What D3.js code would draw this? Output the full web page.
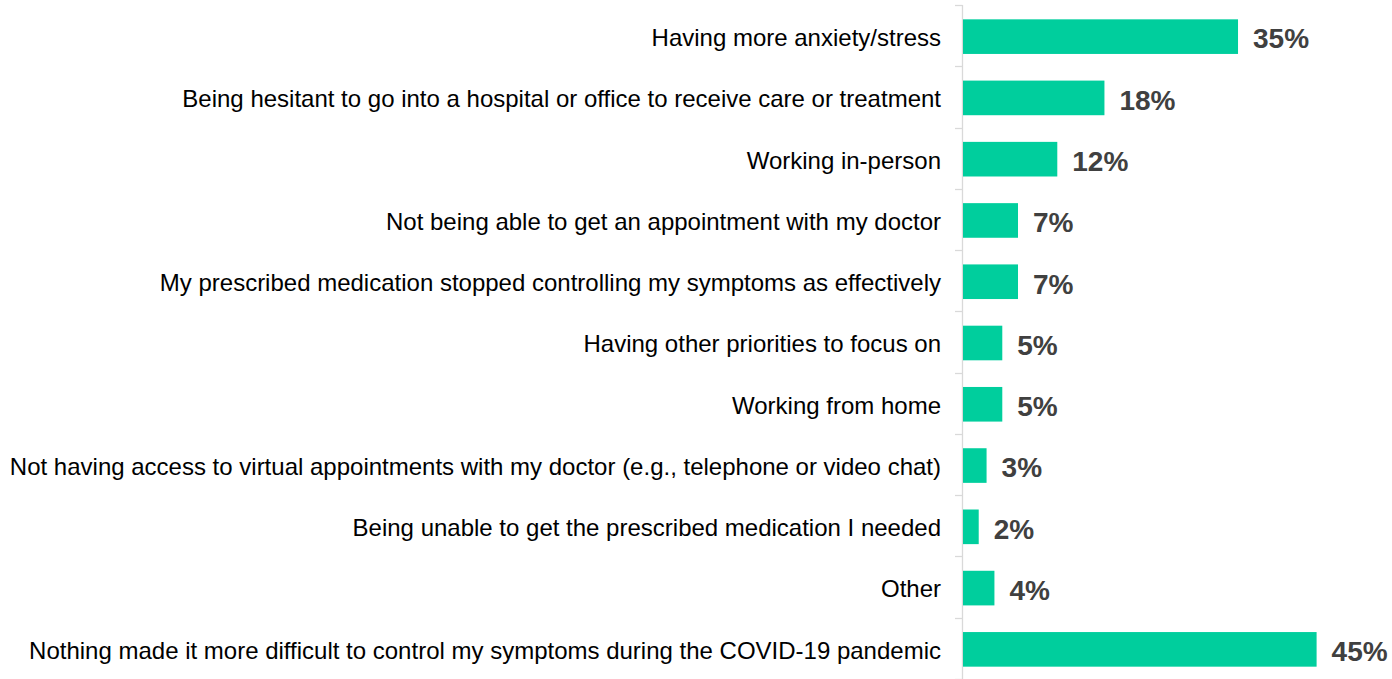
<!DOCTYPE html>
<html>
<head>
<meta charset="utf-8">
<script src="https://cdn.jsdelivr.net/npm/d3@7"></script>
<style>
  body { margin: 0; background: #fff; }
  svg { display: block; }
</style>
</head>
<body>
<svg id="chart" width="1392" height="679"></svg>
<script>
// categories, top to bottom
var categories = [
  "Having more anxiety/stress",
  "Being hesitant to go into a hospital or office to receive care or treatment",
  "Working in-person",
  "Not being able to get an appointment with my doctor",
  "My prescribed medication stopped controlling my symptoms as effectively",
  "Having other priorities to focus on",
  "Working from home",
  "Not having access to virtual appointments with my doctor (e.g., telephone or video chat)",
  "Being unable to get the prescribed medication I needed",
  "Other",
  "Nothing made it more difficult to control my symptoms during the COVID-19 pandemic"
];
// percent values
var values = [35, 18, 12, 7, 7, 5, 5, 3, 2, 4, 45];

var svg = d3.select("#chart");
var axisX = 962;
var topY = 5, bottomY = 679;

// x scale: percent -> pixels
var xs = d3.scaleLinear().domain([0, 45]).range([axisX, axisX + 353.6]);
// y scale: one band per category
var ys = d3.scaleBand().domain(categories).range([topY, bottomY]);
var step = ys.step();
var barH = step * 0.565;

// axis line and ticks between categories
svg.append("line")
  .attr("x1", axisX + 0.5).attr("x2", axisX + 0.5)
  .attr("y1", topY).attr("y2", bottomY)
  .attr("stroke", "#d9d9d9").attr("stroke-width", 1.3);

var ticks = categories.map(function(d) { return ys(d); }).concat([bottomY]);
svg.selectAll("line.tick")
  .data(ticks)
  .enter().append("line")
  .attr("class", "tick")
  .attr("x1", axisX - 7).attr("x2", axisX + 0.5)
  .attr("y1", function(d) { return Math.round(d) + 0.5; })
  .attr("y2", function(d) { return Math.round(d) + 0.5; })
  .attr("stroke", "#d9d9d9").attr("stroke-width", 1.3);

// bars
svg.selectAll("rect.bar")
  .data(values)
  .enter().append("rect")
  .attr("class", "bar")
  .attr("x", xs(0) + 1)
  .attr("y", function(d, i) { return ys(categories[i]) + step / 2 - barH / 2 + 1; })
  .attr("width", function(d) { return xs(d) - xs(0); })
  .attr("height", barH)
  .attr("fill", "#00ce9d");

// category labels
svg.selectAll("text.cat")
  .data(categories)
  .enter().append("text")
  .attr("class", "cat")
  .attr("x", axisX - 21)
  .attr("y", function(d) { return ys(d) + step / 2 + 2; })
  .attr("dy", "0.35em")
  .attr("text-anchor", "end")
  .attr("font-family", "'Liberation Sans', Arial, sans-serif")
  .attr("font-size", "24px")
  .attr("fill", "#000")
  .text(function(d) { return d; });

// value labels
svg.selectAll("text.val")
  .data(values)
  .enter().append("text")
  .attr("class", "val")
  .attr("x", function(d) { return xs(d) + 16; })
  .attr("y", function(d, i) { return ys(categories[i]) + step / 2 + 3; })
  .attr("dy", "0.35em")
  .attr("font-family", "'Liberation Sans', Arial, sans-serif")
  .attr("font-weight", "bold")
  .attr("font-size", "28px")
  .attr("fill", "#404040")
  .text(function(d) { return d + "%"; });
</script>
</body>
</html>
